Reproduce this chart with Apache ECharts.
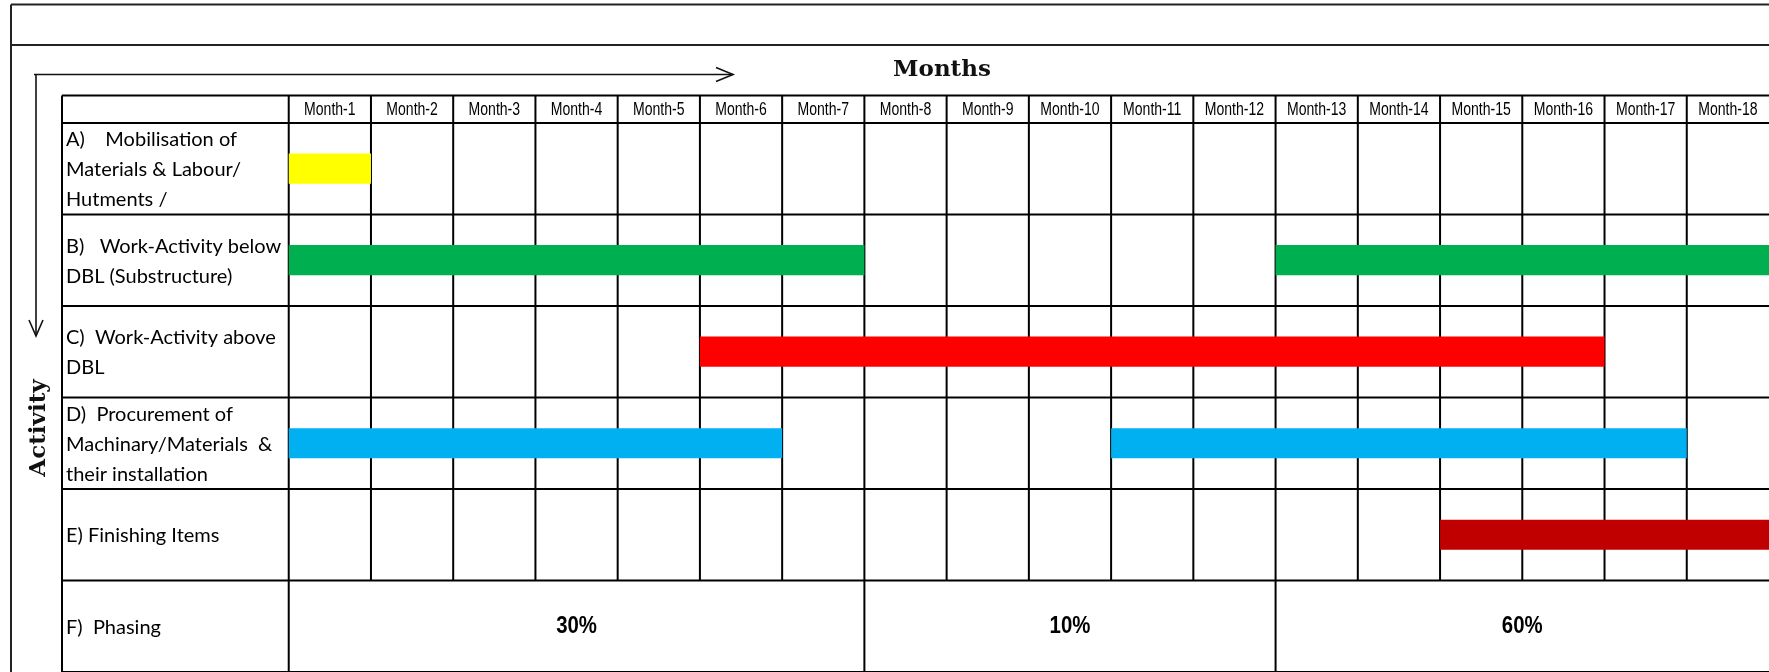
<!DOCTYPE html>
<html><head><meta charset="utf-8">
<script src="https://cdn.jsdelivr.net/npm/echarts@6/dist/echarts.min.js"></script>
<style>html,body{margin:0;padding:0;background:#fff}#c{width:1769px;height:672px}</style>
</head><body><div id="c"></div>
<script>
const months = ['Month-1','Month-2','Month-3','Month-4','Month-5','Month-6','Month-7','Month-8','Month-9','Month-10','Month-11','Month-12','Month-13','Month-14','Month-15','Month-16','Month-17','Month-18'];
const activities = [
  'A)    Mobilisation of\nMaterials & Labour/\nHutments /',
  'B)   Work-Activity below\nDBL (Substructure)',
  'C)  Work-Activity above\nDBL',
  'D)  Procurement of\nMachinary/Materials  &\ntheir installation',
  'E) Finishing Items',
  'F)  Phasing'
];
const barRows   = [0, 1, 1, 2, 3, 3, 4];
const barStarts = [0, 0, 12, 5, 0, 10, 14];
const barEnds   = [1, 7, 18, 16, 6, 17, 18];
const rowColors = ['#FFFF00', '#00B050', '#FF0000', '#00B0F0', '#C00000'];
const phaseStarts = [0, 7, 12];
const phaseEnds   = [7, 12, 18];
const phaseLabels = ['30%', '10%', '60%'];

const LABEL_W = 2.757;   // width of label column, in month units
const HEADER_H = 0.3;    // header row height, in row units
const BAR_H = 0.33;
const NROWS = activities.length;
const PHASE_ROW = NROWS - 1;

// table line segments [x1, y1, x2, y2] in data units
const segs = [];
[-HEADER_H].concat(activities.map((_, i) => i), [NROWS]).forEach(y => segs.push([-LABEL_W, y, months.length, y]));
[-LABEL_W, 0].forEach(x => segs.push([x, -HEADER_H, x, NROWS]));
months.forEach((_, i) => { if (i > 0) segs.push([i, -HEADER_H, i, PHASE_ROW]); });
phaseStarts.forEach(s => { if (s > 0) segs.push([s, PHASE_ROW, s, NROWS]); });

const chart = echarts.init(document.getElementById('c'), null, {renderer: 'canvas'});
const hidden = {axisLine:{show:false}, axisTick:{show:false}, axisLabel:{show:false}, splitLine:{show:false}};
const labelFont = 'Lato, "Open Sans", sans-serif';
chart.setOption({
  animation: false,
  backgroundColor: '#fff',
  grid: {left: 62, top: 95.5, width: 1709, height: 577.5},
  xAxis: Object.assign({type: 'value', min: -LABEL_W, max: months.length}, hidden),
  yAxis: Object.assign({type: 'value', min: -HEADER_H, max: NROWS, inverse: true}, hidden),
  graphic: [
    {type:'line', shape:{x1:11, y1:4.5, x2:1769, y2:4.5}, style:{stroke:'#222', lineWidth:2}},
    {type:'line', shape:{x1:11, y1:45, x2:1769, y2:45}, style:{stroke:'#222', lineWidth:2}},
    {type:'line', shape:{x1:11, y1:4.5, x2:11, y2:672}, style:{stroke:'#222', lineWidth:2}},
    {type:'line', shape:{x1:34, y1:74.5, x2:733, y2:74.5}, style:{stroke:'#111', lineWidth:1.6}},
    {type:'polyline', shape:{points:[[716,67.5],[733,74.5],[716,81.5]]}, style:{stroke:'#111', lineWidth:1.6, fill:null}},
    {type:'line', shape:{x1:36, y1:74.5, x2:36, y2:336}, style:{stroke:'#111', lineWidth:1.6}},
    {type:'polyline', shape:{points:[[29,320],[36,336],[43,320]]}, style:{stroke:'#111', lineWidth:1.6, fill:null}},
    {type:'text', x:942, y:70, style:{text:'Months', font:'bold 23px "DejaVu Serif", serif', fill:'#111', align:'center', verticalAlign:'middle'}},
    {type:'text', x:39.5, y:428, rotation:Math.PI/2, style:{text:'Activity', font:'bold 23px "DejaVu Serif", serif', fill:'#111', align:'center', verticalAlign:'middle'}}
  ],
  series: [
    { // table lines
      type:'custom', silent:true, z:2,
      data: segs,
      renderItem: (p, api) => {
        const a = api.coord([api.value(0), api.value(1)]);
        const b = api.coord([api.value(2), api.value(3)]);
        return {type:'line', shape:{x1:a[0], y1:a[1], x2:b[0], y2:b[1]}, style:{stroke:'#000', lineWidth:2}};
      }
    },
    { // bars
      type:'custom', z:3,
      data: barRows.map((r, i) => [barStarts[i], barEnds[i], r]),
      renderItem: (p, api) => {
        const r = api.value(2);
        const a = api.coord([api.value(0), r + 0.5 - BAR_H/2]);
        const b = api.coord([api.value(1), r + 0.5 + BAR_H/2]);
        return {type:'rect', shape:{x:a[0], y:a[1], width:b[0]-a[0], height:b[1]-a[1]}, style:{fill:rowColors[r]}};
      }
    },
    { // month header labels
      type:'custom', silent:true, z:4,
      data: months.map((m, i) => [i]),
      renderItem: (p, api) => {
        const i = api.value(0);
        const c = api.coord([i + 0.5, -HEADER_H/2]);
        return {type:'text', x:c[0], y:c[1] + 1, scaleX:0.78, style:{text:months[i], font:'18px "Liberation Sans", Arial, sans-serif', fill:'#000', align:'center', verticalAlign:'middle'}};
      }
    },
    { // activity labels
      type:'custom', silent:true, z:4,
      data: activities.map((a, i) => [i]),
      renderItem: (p, api) => {
        const i = api.value(0);
        const c = api.coord([-LABEL_W, i + 0.5]);
        return {type:'text', x:c[0] + 4, y:c[1] + 1, style:{text:activities[i], font:'20px ' + labelFont, fill:'#000', align:'left', verticalAlign:'middle', lineHeight:30}};
      }
    },
    { // phasing labels
      type:'custom', silent:true, z:4,
      data: phaseLabels.map((l, i) => [phaseStarts[i], phaseEnds[i], i]),
      renderItem: (p, api) => {
        const i = api.value(2);
        const c = api.coord([(api.value(0) + api.value(1)) / 2, PHASE_ROW + 0.5]);
        return {type:'text', x:c[0], y:c[1], scaleX:0.85, style:{text:phaseLabels[i], font:'bold 24px "Liberation Sans", Arial, sans-serif', fill:'#000', align:'center', verticalAlign:'middle'}};
      }
    }
  ]
});
</script></body></html>
